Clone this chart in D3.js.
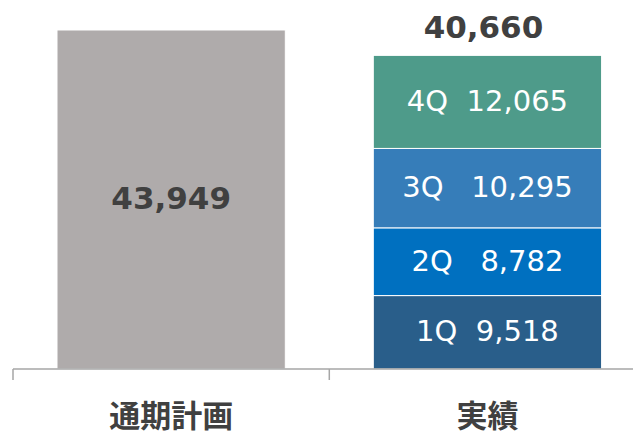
<!DOCTYPE html>
<html>
<head>
<meta charset="utf-8">
<script src="https://cdn.jsdelivr.net/npm/d3@7"></script>
<style>
  body { margin: 0; background: #fff; }
  svg { display: block; font-family: "DejaVu Sans", "Noto Sans CJK JP", sans-serif; }
</style>
</head>
<body>
<svg width="633" height="435"></svg>
<script>
var svg = d3.select("svg");

// Data
var categories = ["通期計画", "実績"];
var planTotal = 43949;
var quarters = ["1Q", "2Q", "3Q", "4Q"];
var quarterValues = [9518, 8782, 10295, 12065];
var quarterLabels = ["1Q  9,518", "2Q   8,782", "3Q   10,295", "4Q  12,065"];
var quarterColors = ["#295E8A", "#0070C0", "#367DB9", "#4E9B8A"];

var fmt = d3.format(",d");
var actualTotal = d3.sum(quarterValues);

// Scales
var x = d3.scaleBand()
    .domain(categories)
    .range([13, 645.6])
    .padding(0);
var barInset = 44;
var barWidth = x.bandwidth() - 2 * barInset;

var y = d3.scaleLinear()
    .domain([0, 44000])
    .range([369, 29.6]);

// Plan bar
svg.append("rect")
    .attr("x", x(categories[0]) + barInset)
    .attr("y", y(planTotal))
    .attr("width", barWidth)
    .attr("height", y(0) - y(planTotal))
    .style("fill", "#AFABAB")
    .style("stroke", "#fff")
    .style("stroke-width", 1);

svg.append("text")
    .attr("x", x(categories[0]) + x.bandwidth() / 2)
    .attr("y", (y(planTotal) + y(0)) / 2 + 10)
    .attr("text-anchor", "middle")
    .style("font-size", "31px")
    .style("font-weight", "bold")
    .style("fill", "#404040")
    .text(fmt(planTotal));

// Stacked actual bar
var stacked = [];
var acc = 0;
quarterValues.forEach(function(v, i) {
    stacked.push({ q: quarters[i], label: quarterLabels[i], y0: acc, y1: acc + v, color: quarterColors[i] });
    acc += v;
});

var segs = svg.selectAll(".seg")
    .data(stacked)
    .enter()
    .append("g")
    .attr("class", "seg");

segs.append("rect")
    .attr("x", x(categories[1]) + barInset)
    .attr("y", function(d) { return y(d.y1); })
    .attr("width", barWidth)
    .attr("height", function(d) { return y(d.y0) - y(d.y1); })
    .style("fill", function(d) { return d.color; })
    .style("stroke", "#fff")
    .style("stroke-width", 1);

segs.append("text")
    .attr("x", x(categories[1]) + x.bandwidth() / 2)
    .attr("y", function(d) { return (y(d.y0) + y(d.y1)) / 2 + 9; })
    .attr("text-anchor", "middle")
    .style("white-space", "pre")
    .style("font-size", "29px")
    .style("fill", "#fff")
    .text(function(d) { return d.label; });

// Total label
svg.append("text")
    .attr("x", x(categories[1]) + x.bandwidth() / 2 - 4)
    .attr("y", y(actualTotal) - 17.5)
    .attr("text-anchor", "middle")
    .style("font-size", "31px")
    .style("font-weight", "bold")
    .style("fill", "#404040")
    .text(fmt(actualTotal));

// Axis
var axis = svg.append("g")
    .attr("transform", "translate(0," + y(0) + ")");

axis.append("line")
    .attr("x1", 13)
    .attr("x2", 633)
    .style("stroke", "#A6A6A6")
    .style("stroke-width", 1.5);

axis.selectAll(".tick")
    .data(categories)
    .enter()
    .append("line")
    .attr("class", "tick")
    .attr("x1", function(d) { return x(d); })
    .attr("x2", function(d) { return x(d); })
    .attr("y1", 0)
    .attr("y2", 11)
    .style("stroke", "#A6A6A6")
    .style("stroke-width", 1.5);

svg.selectAll(".cat")
    .data(categories)
    .enter()
    .append("text")
    .attr("class", "cat")
    .attr("x", function(d) { return x(d) + x.bandwidth() / 2; })
    .attr("y", 427)
    .attr("text-anchor", "middle")
    .style("font-family", "'Noto Sans CJK JP', sans-serif")
    .style("font-size", "31px")
    .style("font-weight", "bold")
    .style("fill", "#404040")
    .text(function(d) { return d; });
</script>
</body>
</html>
